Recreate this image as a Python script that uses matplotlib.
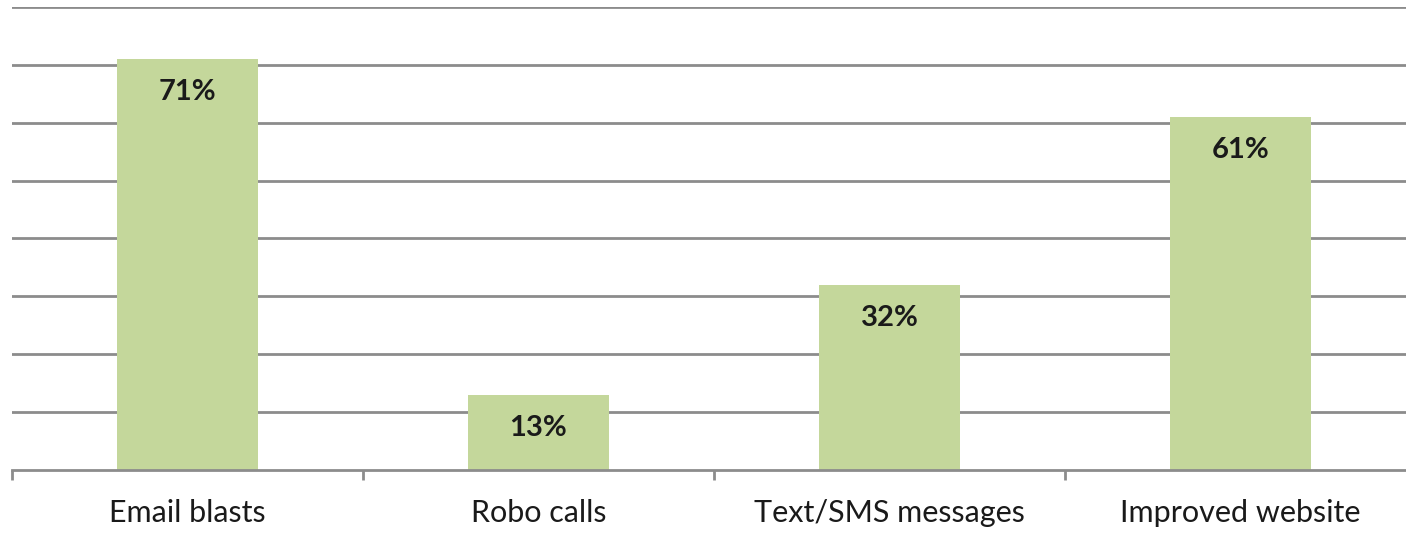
import matplotlib.pyplot as plt

categories = ["Email blasts", "Robo calls", "Text/SMS messages", "Improved website"]
values = [71, 13, 32, 61]
value_labels = ["71%", "13%", "32%", "61%"]

bar_color = "#c4d79b"
grid_color = "#8c8c8c"

plt.rcParams['font.family'] = ['Lato', 'DejaVu Sans']

fig = plt.figure(figsize=(14.06, 5.43), dpi=100)
ax = fig.add_axes([12 / 1406, 73 / 543, 1 - 12 / 1406, (470 - 7) / 543])

x = range(len(categories))
bars = ax.bar(x, values, width=0.4, color=bar_color, zorder=3)

for b, lab in zip(bars, value_labels):
    ax.annotate(lab, (b.get_x() + b.get_width() / 2, b.get_height()),
                xytext=(0, -24), textcoords="offset points",
                ha="center", va="center", fontsize=21, fontweight="bold",
                color="#1a1a1a", zorder=4)

ax.set_ylim(0, 80)
ax.set_xlim(-0.5, -0.5 + (1406 - 12) / 351)
ax.set_yticks(range(10, 81, 10))
ax.yaxis.grid(True, color=grid_color, linewidth=2, zorder=0)
ax.tick_params(axis="y", left=False, labelleft=False)

# category boundaries as ticks, labels at centers
ax.set_xticks([i - 0.5 for i in range(len(categories))])
ax.set_xticklabels([])
ax.set_xticks(list(x), minor=True)
ax.set_xticklabels(categories, minor=True, fontsize=22, color="#1a1a1a")
ax.tick_params(axis="x", which="major", length=7, width=2, color=grid_color, direction="out")
ax.tick_params(axis="x", which="minor", length=0, pad=21)

for s in ["top", "right", "left"]:
    ax.spines[s].set_visible(False)
ax.spines["bottom"].set_color(grid_color)
ax.spines["bottom"].set_linewidth(2)
ax.spines["bottom"].set_zorder(5)

fig.savefig("out.png", dpi=100)
